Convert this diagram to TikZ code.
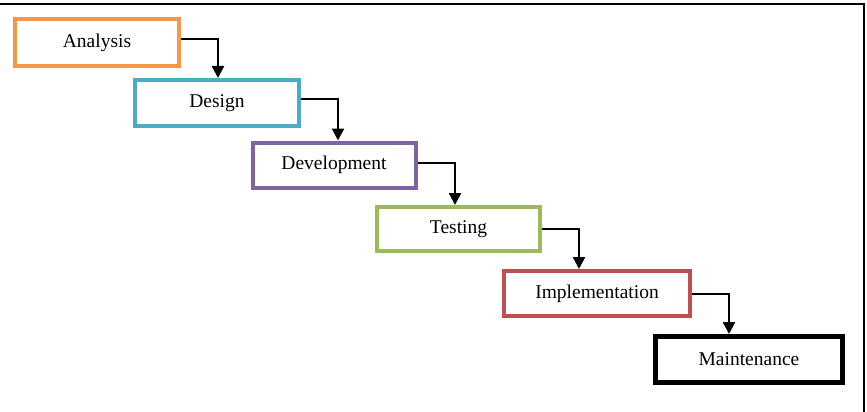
\documentclass[tikz,border=0pt]{standalone}
\usepackage{fontspec}
\setmainfont{Liberation Serif}
\usetikzlibrary{arrows.meta}
\definecolor{cOrange}{HTML}{F79646}
\definecolor{cBlue}{HTML}{4BACC6}
\definecolor{cPurple}{HTML}{8064A2}
\definecolor{cGreen}{HTML}{9BBB59}
\definecolor{cRed}{HTML}{C0504D}
\begin{document}
\begin{tikzpicture}[x=1pt,y=-1pt,
  stage/.style={draw=#1, line width=4pt, fill=white, text=black, inner sep=0pt,
    font=\fontsize{19.5}{23}\selectfont},
  flow/.style={line width=2.4pt, -{Triangle[length=12pt,width=12pt]}}]
\useasboundingbox (0,0) rectangle (867,412);
\draw[line width=2pt] (0,4) -- (864,4) -- (864,412);
\node[stage=cOrange, minimum width=164pt, minimum height=47pt] (an) at (97,42.5) {Analysis};
\node[stage=cBlue, minimum width=164pt, minimum height=46pt] (de) at (217,103) {Design};
\node[stage=cPurple, minimum width=163pt, minimum height=45pt] (dv) at (334,165) {Development};
\node[stage=cGreen, minimum width=163pt, minimum height=44pt] (te) at (458.5,229) {Testing};
\node[stage=cRed, minimum width=186pt, minimum height=45pt] (im) at (597,293.5) {Implementation};
\node[stage=black, line width=5pt, minimum width=187pt, minimum height=46pt] (ma) at (749,359.5) {Maintenance};
\coordinate (k1) at (218,39);
\coordinate (k2) at (338,99);
\coordinate (k3) at (455,163);
\coordinate (k4) at (579,229);
\coordinate (k5) at (729,294);
\draw[flow] (an.east |- k1) -- (k1) -- (k1 |- de.north);
\draw[flow] (de.east |- k2) -- (k2) -- (k2 |- dv.north);
\draw[flow] (dv.east |- k3) -- (k3) -- (k3 |- te.north);
\draw[flow] (te.east |- k4) -- (k4) -- (k4 |- im.north);
\draw[flow] (im.east |- k5) -- (k5) -- (k5 |- ma.north);
\end{tikzpicture}
\end{document}
